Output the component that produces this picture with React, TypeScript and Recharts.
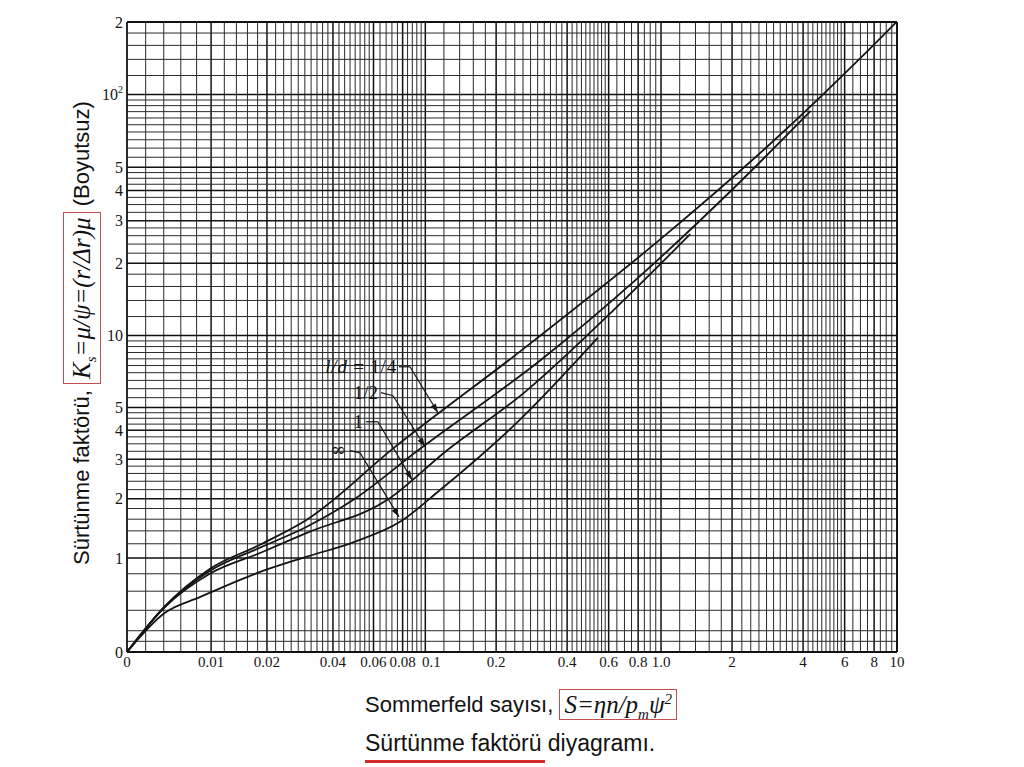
import React from 'react';
import { LineChart, Line, XAxis, YAxis, ReferenceLine, ReferenceDot } from 'recharts';

// Sommerfeld number S and friction variable Ks = (r/c) f
const sQuarter = [0, 0.0041, 0.0098, 0.0185, 0.0306, 0.0736, 0.261, 1.07, 2.83, 7.57, 10];
const kQuarter = [0, 0.44, 0.86, 1.186, 1.59, 3.37, 8.8, 26.7, 61.1, 153, 201];
const sHalf = [0, 0.0041, 0.0098, 0.0185, 0.0306, 0.0489, 0.0923, 0.319, 0.779, 2.03, 4.31];
const kHalf = [0, 0.435, 0.834, 1.143, 1.469, 1.97, 3.26, 8.1, 17.0, 40.9, 85.6];
const sOne = [0, 0.0041, 0.0098, 0.0185, 0.0306, 0.0686, 0.121, 0.264, 0.631, 1.33];
const kOne = [0, 0.43, 0.8, 1.068, 1.368, 1.97, 3.22, 5.79, 12.8, 26.4];
const sInf = [0, 0.0041, 0.0085, 0.0185, 0.0306, 0.049, 0.078, 0.1155, 0.2525, 0.54];
const kInf = [0, 0.373, 0.538, 0.822, 1.018, 1.222, 1.553, 2.19, 4.44, 9.8];

// axis ticks
const xTickValues = [0, 0.01, 0.02, 0.04, 0.06, 0.08, 0.1, 0.2, 0.4, 0.6, 0.8, 1, 2, 4, 6, 8, 10];
const xTickLabels = ['0', '0.01', '0.02', '0.04', '0.06', '0.08', '0.1', '0.2', '0.4', '0.6', '0.8', '1.0', '2', '4', '6', '8', '10'];
const yTickValues = [0, 1, 2, 3, 4, 5, 10, 20, 30, 40, 50, 100, 200];
const yTickLabels = ['0', '1', '2', '3', '4', '5', '10', '2', '3', '4', '5', '10^2', '2'];

// grid bands: [from, to, step]
const xGridBands = [[0, 0.04, 0.002], [0.04, 0.06, 0.0025], [0.06, 0.1, 0.004], [0.1, 0.6, 0.02], [0.6, 1, 0.05], [1, 6, 0.2], [6, 10, 0.5]];
const yGridBands = [[0, 0.2, 0.1], [0.2, 3, 0.2], [3, 5, 0.25], [5, 10, 0.5], [10, 30, 2], [30, 50, 2.5], [50, 100, 5], [100, 200, 20]];

// curve annotations (text end, elbow, arrow tip) in S / Ks units
const annLabels = ['l/d = 1/4', '1/2', '1', '∞'];
const annTextS = [0.0757, 0.0627, 0.054, 0.0456];
const annTextK = [7.41, 5.77, 4.35, 3.3];
const annStartS = [0.0772, 0.0646, 0.0557, 0.0475];
const annStartK = [7.41, 5.77, 4.35, 3.27];
const annElbowS = [0.086, 0.0728, 0.0627, 0.0525];
const annElbowK = [7.41, 5.6, 4.35, 3.2];
const annTipS = [0.1132, 0.0997, 0.0877, 0.0772];
const annTipK = [4.75, 3.4, 2.44, 1.64];

// quasi-logarithmic (asinh) scales of the original chart
const CX = 0.01092;
const CY = 0.978;
const tx = (s: number) => Math.asinh(s / CX) / Math.LN10;
const ty = (k: number) => Math.asinh(k / CY) / Math.LN10;
const X_MAX = tx(10);
const Y_MAX = ty(200);

const toData = (s: number[], k: number[]) => s.map((v, i) => ({ x: tx(v), y: ty(k[i]) }));

const bandValues = (bands: number[][]) => {
  const out: number[] = [];
  bands.forEach(([a, b, st]) => {
    const n = Math.round((b - a) / st);
    for (let i = 1; i <= n; i++) out.push(+(a + i * st).toFixed(6));
  });
  return Array.from(new Set(out));
};

const xGrid = bandValues(xGridBands);
const yGrid = bandValues(yGridBands);
const xTicksT = xTickValues.map(tx);
const yTicksT = yTickValues.map(ty);

const serif = "'Liberation Serif', 'Times New Roman', serif";
const sans = "'Liberation Sans', Arial, sans-serif";
const INK = '#151515';
const BOX = '#c0504d';

const XTick = (props: any) => {
  const { x, y, payload } = props;
  const i = xTicksT.findIndex((v) => Math.abs(v - payload.value) < 1e-9);
  const lab = xTickLabels[i];
  return (
    <text x={x} y={y} dx={lab === '0.1' ? 6 : 0} dy="0.71em" textAnchor="middle" fontFamily={serif} fontSize={15} fill={INK}>
      {lab}
    </text>
  );
};

const YTick = (props: any) => {
  const { x, y, payload } = props;
  const i = yTicksT.findIndex((v) => Math.abs(v - payload.value) < 1e-9);
  const lab = yTickLabels[i];
  if (lab === '10^2') {
    return (
      <text x={x} y={y} dy="0.35em" textAnchor="end" fontFamily={serif} fontSize={16} fill={INK}>
        10<tspan dy={-7} fontSize={10}>2</tspan>
      </text>
    );
  }
  return (
    <text x={x} y={y} dy="0.35em" textAnchor="end" fontFamily={serif} fontSize={16} fill={INK}>
      {lab}
    </text>
  );
};

const ArrowShape = (p: any) => {
  const { x1, y1, x2, y2 } = p;
  const ang = Math.atan2(y2 - y1, x2 - x1);
  const L = 9;
  const W = 3;
  const bx = x2 - L * Math.cos(ang);
  const by = y2 - L * Math.sin(ang);
  const pts = `${x2},${y2} ${bx + W * Math.sin(ang)},${by - W * Math.cos(ang)} ${bx - W * Math.sin(ang)},${by + W * Math.cos(ang)}`;
  return (
    <g>
      <line x1={x1} y1={y1} x2={x2} y2={y2} stroke={INK} strokeWidth={1.2} />
      <polygon points={pts} fill={INK} />
    </g>
  );
};

const PlainSeg = (p: any) => <line x1={p.x1} y1={p.y1} x2={p.x2} y2={p.y2} stroke={INK} strokeWidth={1.2} />;

const makeLabel = (idx: number) => (p: any) => {
  const lab = annLabels[idx];
  const common = { x: p.cx, y: p.cy, dy: '0.35em', textAnchor: 'end' as const, fill: INK };
  if (idx === 0) {
    return (
      <text {...common} fontFamily={serif} fontSize={19} letterSpacing={0.8}>
        <tspan fontStyle="italic">l/d</tspan>
        <tspan>{' = 1/4'}</tspan>
      </text>
    );
  }
  if (idx === 3) {
    return (
      <text {...common} fontFamily="'DejaVu Serif', serif" fontSize={19}>
        {lab}
      </text>
    );
  }
  return (
    <text {...common} fontFamily={serif} fontSize={19}>
      {lab}
    </text>
  );
};

const gridStroke = (major: boolean) => (major ? { stroke: '#111', strokeWidth: 1.5 } : { stroke: '#2a2a2a', strokeWidth: 1 });

export default function App() {
  const xMajor = new Set(xTickValues);
  const yMajor = new Set(yTickValues);
  return (
    <div style={{ position: 'relative', width: 1000, height: 756, background: '#fff' }}>
      <LineChart width={1000} height={750} margin={{ top: 14, right: 111, bottom: 76, left: 59 }}>
        <XAxis
          type="number"
          dataKey="x"
          domain={[0, X_MAX]}
          ticks={xTicksT}
          interval={0}
          allowDataOverflow
          axisLine={false}
          tickLine={false}
          tickSize={2}
          tickMargin={2}
          height={30}
          tick={<XTick />}
        />
        <YAxis
          type="number"
          dataKey="y"
          domain={[0, Y_MAX]}
          ticks={yTicksT}
          interval={0}
          allowDataOverflow
          axisLine={false}
          tickLine={false}
          tickSize={2}
          tickMargin={2}
          width={60}
          tick={<YTick />}
        />
        {xGrid.map((v) => (
          <ReferenceLine key={'gx' + v} x={tx(v)} {...gridStroke(xMajor.has(v))} />
        ))}
        {yGrid.map((v) => (
          <ReferenceLine key={'gy' + v} y={ty(v)} {...gridStroke(yMajor.has(v))} />
        ))}
        <ReferenceLine x={0} stroke="#111" strokeWidth={1.8} />
        <ReferenceLine x={X_MAX} stroke="#111" strokeWidth={1.8} />
        <ReferenceLine y={0} stroke="#111" strokeWidth={1.8} />
        <ReferenceLine y={Y_MAX} stroke="#111" strokeWidth={1.8} />
        {annLabels.map((_, i) => (
          <ReferenceLine
            key={'as' + i}
            segment={[
              { x: tx(annStartS[i]), y: ty(annStartK[i]) },
              { x: tx(annElbowS[i]), y: ty(annElbowK[i]) },
            ]}
            shape={PlainSeg}
          />
        ))}
        {annLabels.map((_, i) => (
          <ReferenceLine
            key={'aa' + i}
            segment={[
              { x: tx(annElbowS[i]), y: ty(annElbowK[i]) },
              { x: tx(annTipS[i]), y: ty(annTipK[i]) },
            ]}
            shape={ArrowShape}
          />
        ))}
        {annLabels.map((_, i) => (
          <ReferenceDot key={'al' + i} x={tx(annTextS[i])} y={ty(annTextK[i])} r={0} shape={makeLabel(i)} />
        ))}
        <Line data={toData(sQuarter, kQuarter)} dataKey="y" type="monotone" stroke={INK} strokeWidth={1.8} dot={false} isAnimationActive={false} />
        <Line data={toData(sHalf, kHalf)} dataKey="y" type="monotone" stroke={INK} strokeWidth={1.8} dot={false} isAnimationActive={false} />
        <Line data={toData(sOne, kOne)} dataKey="y" type="monotone" stroke={INK} strokeWidth={1.8} dot={false} isAnimationActive={false} />
        <Line data={toData(sInf, kInf)} dataKey="y" type="monotone" stroke={INK} strokeWidth={1.8} dot={false} isAnimationActive={false} />
      </LineChart>

      {/* Y axis title */}
      <div
        style={{
          position: 'absolute',
          left: 74 - 240,
          top: 317 - 24,
          width: 480,
          height: 48,
          transform: 'rotate(-90deg)',
          display: 'flex',
          alignItems: 'center',
          whiteSpace: 'nowrap',
          color: '#111',
        }}
      >
        <span style={{ fontFamily: sans, fontSize: 22 }}>Sürtünme faktörü,&nbsp;</span>
        <span
          style={{
            fontFamily: serif,
            fontStyle: 'italic',
            fontSize: 25,
            lineHeight: '30px',
            border: `1.5px solid ${BOX}`,
            padding: '3px 4px',
          }}
        >
          K<sub style={{ fontSize: 15, lineHeight: 0 }}>s</sub>=μ/ψ=(r/Δr)μ
        </span>
        <span style={{ fontFamily: sans, fontSize: 22 }}>&nbsp;(Boyutsuz)</span>
      </div>

      {/* X axis title */}
      <div style={{ position: 'absolute', left: 357, top: 681, display: 'flex', alignItems: 'center', whiteSpace: 'nowrap', color: '#111' }}>
        <span style={{ fontFamily: sans, fontSize: 22 }}>Sommerfeld sayısı,&nbsp;</span>
        <span
          style={{
            fontFamily: serif,
            fontStyle: 'italic',
            fontSize: 25,
            lineHeight: '29px',
            border: `1.5px solid ${BOX}`,
            padding: '0 4px',
          }}
        >
          S=ηn/p<sub style={{ fontSize: 15, lineHeight: 0 }}>m</sub>ψ<sup style={{ fontSize: 15, lineHeight: 0 }}>2</sup>
        </span>
      </div>

      {/* caption */}
      <div style={{ position: 'absolute', left: 357, top: 722, width: 400, color: '#111', whiteSpace: 'nowrap' }}>
        <div style={{ fontFamily: sans, fontSize: 23, lineHeight: '27px' }}>Sürtünme faktörü diyagramı.</div>
        <div style={{ marginTop: 3, width: 180, borderTop: '3px solid #d42a2a' }} />
      </div>
    </div>
  );
}
